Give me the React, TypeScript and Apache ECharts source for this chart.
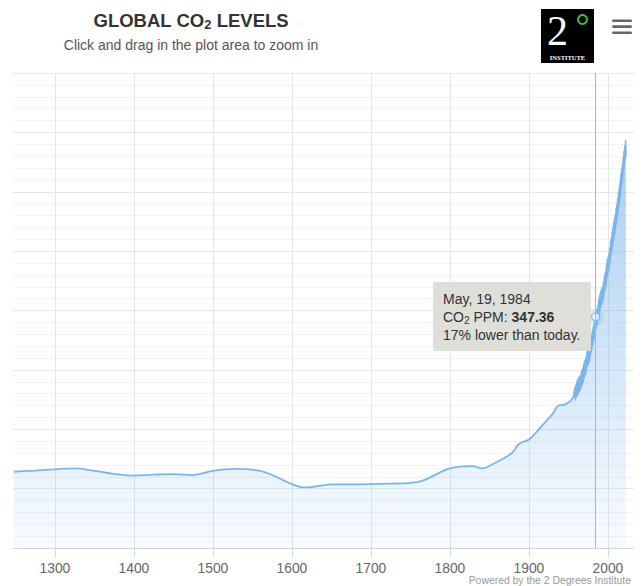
import { useEffect, useRef } from 'react';
import * as echarts from 'echarts';

const iceYears = [1248, 1275, 1300, 1325, 1350, 1375, 1400, 1425, 1450, 1475, 1500, 1530, 1560, 1580, 1600, 1615, 1635, 1650, 1675, 1700, 1725, 1750, 1765, 1780, 1800, 1828, 1841, 1855, 1870, 1880, 1887, 1900, 1910, 1921, 1930, 1938, 1946, 1955];
const icePPM = [282.1, 282.6, 283.1, 283.5, 282.5, 281.2, 280.5, 280.9, 281.1, 280.7, 282.5, 283.3, 282.5, 280.0, 276.9, 275.5, 276.2, 276.8, 276.8, 276.9, 277.1, 277.4, 278.3, 280.6, 283.5, 284.5, 283.5, 285.5, 288.1, 290.5, 293.7, 295.7, 299.0, 303.1, 306.5, 310.1, 310.5, 312.9];

// Direct measurements: seasonal high (May) and low (September) per year
const mloYears = [1958, 1959, 1960, 1961, 1962, 1963, 1964, 1965, 1966, 1967, 1968, 1969, 1970, 1971, 1972, 1973, 1974, 1975, 1976, 1977, 1978, 1979, 1980, 1981, 1982, 1983, 1984, 1985, 1986, 1987, 1988, 1989, 1990, 1991, 1992, 1993, 1994, 1995, 1996, 1997, 1998, 1999, 2000, 2001, 2002, 2003, 2004, 2005, 2006, 2007, 2008, 2009, 2010, 2011, 2012, 2013, 2014, 2015, 2016, 2017, 2018, 2019, 2020, 2021, 2022];
const mloPeak = [317.5, 318.6, 320.0, 320.6, 321.4, 322.0, 322.4, 322.9, 324.3, 325.0, 326.0, 327.7, 328.7, 329.3, 330.5, 332.7, 333.2, 334.2, 335.0, 336.9, 338.5, 339.9, 341.8, 343.2, 344.5, 346.2, 347.4, 349.4, 350.7, 352.4, 354.8, 356.3, 357.5, 358.8, 359.6, 360.3, 362.0, 364.0, 365.8, 366.9, 369.9, 371.6, 372.8, 374.4, 376.5, 379.1, 380.8, 383.0, 385.2, 387.1, 388.9, 390.7, 393.2, 394.9, 397.1, 399.8, 401.9, 404.1, 407.5, 409.8, 411.8, 414.7, 417.3, 419.5, 421.6];
const mloTrough = [312.4, 313.2, 313.8, 314.4, 315.2, 315.8, 316.4, 316.9, 318.1, 318.9, 319.6, 321.2, 322.3, 323.0, 324.1, 326.3, 326.8, 327.8, 328.6, 330.5, 332.0, 333.4, 335.4, 336.7, 338.1, 339.8, 341.5, 343.0, 344.2, 345.9, 348.3, 349.8, 351.1, 352.3, 353.1, 353.8, 355.6, 357.6, 359.3, 360.5, 363.4, 365.1, 366.3, 367.9, 370.1, 372.6, 374.3, 376.6, 378.7, 380.6, 382.4, 384.2, 386.7, 388.5, 390.7, 393.3, 395.4, 397.6, 401.0, 403.4, 405.3, 408.3, 410.8, 413.1, 415.2];
const peakMonth = 5;
const troughMonth = 9;

const xTickYears = [1300, 1400, 1500, 1600, 1700, 1800, 1900, 2000];

const hoverDate = 'May, 19, 1984';
const hoverYear = 1984.38;
const hoverPPM = 347.36;
const hoverPctLower = 17;

const FONT = '"Liberation Sans", Arial, Helvetica, sans-serif';
const SERIF = '"Liberation Serif", "DejaVu Serif", serif';

export default function App() {
  const ref = useRef<HTMLDivElement>(null);

  useEffect(() => {
    if (!ref.current) return;
    const chart = echarts.init(ref.current, undefined, { renderer: 'svg' });

    const data: number[][] = [];
    iceYears.forEach((y, i) => data.push([y, icePPM[i]]));
    mloYears.forEach((y, i) => {
      data.push([y + (peakMonth - 0.5) / 12, mloPeak[i]]);
      data.push([y + (troughMonth - 0.5) / 12, mloTrough[i]]);
    });

    const fill = new echarts.graphic.LinearGradient(
      0, 140, 0, 548,
      [
        { offset: 0, color: 'rgba(124,181,236,0.95)' },
        { offset: 0.8, color: 'rgba(124,181,236,0.24)' },
        { offset: 1, color: 'rgba(124,181,236,0.08)' },
      ],
      true
    );

    chart.setOption({
      animation: false,
      backgroundColor: '#ffffff',
      textStyle: { fontFamily: FONT },
      grid: { left: 13, right: 10, top: 73, bottom: 38, containLabel: false },
      xAxis: {
        type: 'value',
        min: 1247,
        max: 2033,
        axisLine: { show: true, lineStyle: { color: '#ccd6eb', width: 1 } },
        axisTick: { show: true, length: 9, customValues: xTickYears, lineStyle: { color: '#ccd6eb' } },
        axisLabel: {
          customValues: xTickYears,
          color: '#666666',
          fontSize: 13.8,
          fontFamily: FONT,
          margin: 13,
          formatter: (v: number) => String(v),
        },
        splitLine: { show: true, lineStyle: { color: '#e6e6e6', width: 1 } },
      },
      yAxis: {
        type: 'value',
        min: 250,
        max: 450,
        interval: 25,
        axisLine: { show: false },
        axisTick: { show: false },
        axisLabel: { show: false },
        splitLine: { show: true, lineStyle: { color: '#e6e6e6', width: 1 } },
        minorTick: { show: false, splitNumber: 5 },
        minorSplitLine: { show: true, lineStyle: { color: '#f2f2f2', width: 1 } },
      },
      series: [
        {
          type: 'line',
          data,
          smooth: 0.4,
          showSymbol: false,
          symbol: 'none',
          lineStyle: { color: '#7cb5ec', width: 1.8 },
          areaStyle: { color: fill, origin: 'start' },
          z: 2,
          silent: true,
        },
        {
          type: 'scatter',
          data: [[hoverYear, hoverPPM]],
          symbol: 'circle',
          symbolSize: 17,
          itemStyle: { color: 'rgba(124,181,236,0.3)' },
          z: 3,
          silent: true,
          markLine: {
            silent: true,
            symbol: 'none',
            label: { show: false },
            lineStyle: { color: '#b3b3b3', width: 1, type: 'solid' },
            data: [{ xAxis: hoverYear }],
          },
        },
        {
          type: 'scatter',
          data: [[hoverYear, hoverPPM]],
          symbol: 'circle',
          symbolSize: 8,
          itemStyle: { color: '#ffffff', borderColor: '#7cb5ec', borderWidth: 1.5 },
          z: 4,
          silent: true,
        },
      ],
      graphic: [
        {
          type: 'text',
          x: 191,
          y: 20,
          z: 10,
          style: {
            text: '{t|GLOBAL CO}{s|2}{t| LEVELS}',
            align: 'center',
            verticalAlign: 'middle',
            rich: {
              t: { fontSize: 18.5, fontWeight: 'bold', fontFamily: FONT, fill: '#333333', lineHeight: 22 },
              s: { fontSize: 13, fontWeight: 'bold', fontFamily: FONT, fill: '#333333', lineHeight: 12, verticalAlign: 'bottom' },
            },
          },
        },
        {
          type: 'text',
          x: 191,
          y: 45,
          z: 10,
          style: {
            text: 'Click and drag in the plot area to zoom in',
            align: 'center',
            verticalAlign: 'middle',
            fontSize: 14,
            fontFamily: FONT,
            fill: '#555555',
          },
        },
        // logo
        { type: 'rect', z: 10, shape: { x: 541, y: 9, width: 53, height: 54 }, style: { fill: '#000000' } },
        {
          type: 'text', z: 11, x: 557.5, y: 30.5,
          style: { text: '2', align: 'center', verticalAlign: 'middle', fontSize: 42, lineHeight: 36, fontFamily: SERIF, fill: '#ffffff' },
        },
        {
          type: 'circle', z: 11, shape: { cx: 582.5, cy: 19.5, r: 4.5 },
          style: { fill: 'none', stroke: '#3fbf3a', lineWidth: 2 },
        },
        {
          type: 'text', z: 11, x: 567.5, y: 57.5,
          style: { text: 'INSTITUTE', align: 'center', verticalAlign: 'middle', fontSize: 6.5, lineHeight: 7, fontWeight: 'bold', fontFamily: SERIF, fill: '#ffffff' },
        },
        // menu icon
        { type: 'rect', z: 10, shape: { x: 612, y: 19.5, width: 20, height: 2.6, r: 1.3 }, style: { fill: '#666666' } },
        { type: 'rect', z: 10, shape: { x: 612, y: 25.3, width: 20, height: 2.6, r: 1.3 }, style: { fill: '#666666' } },
        { type: 'rect', z: 10, shape: { x: 612, y: 31.5, width: 20, height: 2.6, r: 1.3 }, style: { fill: '#666666' } },
        // tooltip
        {
          type: 'rect', z: 20, shape: { x: 433, y: 282, width: 158, height: 69, r: 1 },
          style: { fill: 'rgba(222,222,217,0.96)' },
        },
        {
          type: 'text', z: 21, x: 443, y: 299,
          style: { text: hoverDate, verticalAlign: 'middle', fontSize: 14, fontFamily: FONT, fill: '#333333' },
        },
        {
          type: 'text', z: 21, x: 443, y: 316.5,
          style: {
            text: `{a|CO}{s|2}{a| PPM: }{b|${hoverPPM.toFixed(2)}}`,
            verticalAlign: 'middle',
            rich: {
              a: { fontSize: 14, fontFamily: FONT, fill: '#333333', lineHeight: 17 },
              s: { fontSize: 10, fontFamily: FONT, fill: '#333333', lineHeight: 10, verticalAlign: 'bottom' },
              b: { fontSize: 14, fontWeight: 'bold', fontFamily: FONT, fill: '#333333', lineHeight: 17 },
            },
          },
        },
        {
          type: 'text', z: 21, x: 443, y: 334.5,
          style: { text: `${hoverPctLower}% lower than today.`, verticalAlign: 'middle', fontSize: 14, fontFamily: FONT, fill: '#333333' },
        },
        // credits
        {
          type: 'text', z: 10, x: 631, y: 580,
          style: { text: 'Powered by the 2 Degrees Institute', align: 'right', verticalAlign: 'middle', fontSize: 10.4, fontFamily: FONT, fill: '#999999' },
        },
      ],
    });

    return () => chart.dispose();
  }, []);

  return (
    <div
      ref={ref}
      style={{ position: 'fixed', left: 0, top: 0, width: 644, height: 586, background: '#fff' }}
    />
  );
}
